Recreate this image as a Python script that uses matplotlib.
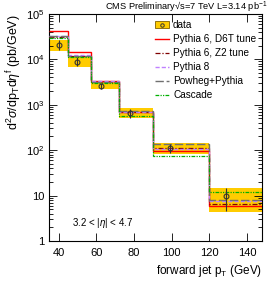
import numpy as np
import matplotlib
matplotlib.use("Agg")
import matplotlib.pyplot as plt
from matplotlib.lines import Line2D
from matplotlib.patches import Patch
from matplotlib.ticker import FuncFormatter, LogLocator, NullFormatter

plt.rcParams['font.family'] = ['Liberation Sans', 'DejaVu Sans']
plt.rcParams['mathtext.fontset'] = 'custom'
plt.rcParams['mathtext.rm'] = 'Liberation Sans'
plt.rcParams['mathtext.it'] = 'Liberation Sans:italic'
plt.rcParams['mathtext.sf'] = 'Liberation Sans'

# pT bin edges (GeV) and data
edges = [35, 45, 57, 72, 90, 120, 150]
data_x = [40, 50, 62.5, 78, 99, 129]
data_y = [2.1e4, 8.9e3, 2.6e3, 650, 110, 9.8]
band_lo = [1.55e4, 6.9e3, 2.2e3, 500, 83, 4.4]
band_hi = [2.6e4, 1.1e4, 3.1e3, 830, 141, 14.5]
err_lo = [1.6e4, 7.0e3, 2.25e3, 520, 85, 4.5]
err_hi = [2.6e4, 1.1e4, 3.05e3, 820, 140, 14.8]

# model predictions
d6t = [4.1e4, 1.43e4, 3.3e3, 705, 98, 5.9]
z2 = [3.1e4, 1.2e4, 3.2e3, 700, 110, 6.5]
py8 = [3.3e4, 1.25e4, 3.25e3, 690, 105, 7.5]
powheg = [3.2e4, 1.2e4, 3.2e3, 720, 137, 8.0]
cascade = [3.0e4, 1.12e4, 3.0e3, 575, 76, 12.2]

fig = plt.figure(figsize=(2.76, 3.02), dpi=100)
ax = fig.add_axes([0.178, 0.202, 0.771, 0.752])

yellow = '#ffcc00'
for i in range(len(data_y)):
    ax.fill_between([edges[i], edges[i + 1]], band_lo[i], band_hi[i],
                    color=yellow, lw=0, zorder=1)

models = [
    (d6t, 'Pythia 6, D6T tune', '#ff0000', '-', 1.0),
    (z2, 'Pythia 6, Z2 tune', '#800000', (0, (4, 1.5, 1, 1.5)), 0.9),
    (py8, 'Pythia 8', '#c080ff', (0, (3, 1.5)), 1.0),
    (powheg, 'Powheg+Pythia', '#707070', (0, (6, 2)), 1.0),
    (cascade, 'Cascade', '#00b000', (0, (3, 1, 1, 1, 1, 1)), 0.9),
]
handles = [(Patch(facecolor=yellow, edgecolor='#806000', lw=0.6),
            Line2D([], [], marker='o', ms=2.5, mfc='none', mec='#333333', mew=0.7, ls='none'))]
labels = ['data']
for vals, lab, col, ls, lw in models:
    ax.stairs(vals, edges, baseline=None, color=col, ls=ls, lw=lw, zorder=3)
    handles.append(Line2D([], [], color=col, ls=ls, lw=lw))
    labels.append(lab)

yerr = [np.array(data_y) - np.array(err_lo), np.array(err_hi) - np.array(data_y)]
ax.errorbar(data_x, data_y, yerr=yerr, fmt='o', ms=3.5, mfc='none', mec='#333333',
            mew=0.8, ecolor='#333333', elinewidth=0.8, capsize=0, zorder=5)

ax.set_yscale('log')
ax.set_xlim(35, 148)
ax.set_ylim(1, 1e5)
ax.set_xticks([40, 60, 80, 100, 120, 140])


def ylab(v, pos):
    e = int(round(np.log10(v)))
    if e == 0:
        return '1'
    if e == 1:
        return '10'
    return r'$10^{%d}$' % e


ax.yaxis.set_major_formatter(FuncFormatter(ylab))
ax.yaxis.set_minor_locator(LogLocator(base=10, subs=np.arange(2, 10)))
ax.yaxis.set_minor_formatter(NullFormatter())
ax.tick_params(which='both', direction='in', top=True, right=True, labelsize=8)
ax.tick_params(which='major', length=6, width=0.6)
ax.tick_params(which='minor', length=3, width=0.6)
ax.tick_params(axis='x', which='major', pad=5)
for s in ax.spines.values():
    s.set_linewidth(0.8)

ax.set_xlabel(r'forward jet p$_\mathrm{T}$ (GeV)', fontsize=8.5, loc='right', labelpad=4)
ax.set_ylabel(r'd$^2\sigma$/dp$_\mathrm{T}$d$\eta^\mathrm{f}$ (pb/GeV)', fontsize=9,
              loc='top', labelpad=1)
ax.text(0.108, 0.079, r'3.2 < |$\eta$| < 4.7', transform=ax.transAxes, fontsize=7,
        va='center')
fig.text(267 / 276, 1 - 10 / 302, 'CMS Preliminary\u221as=7 TeV L=3.14 pb$^{-1}$',
         ha='right', va='baseline', fontsize=6.7)

fig.legend(handles, labels, loc='upper left', bbox_to_anchor=(155 / 276, 1 - 20 / 302),
           frameon=False, fontsize=7.2, handlelength=1.4, handletextpad=0.4,
           labelspacing=0.4, borderpad=0, borderaxespad=0)

fig.savefig('out.png', dpi=100)
